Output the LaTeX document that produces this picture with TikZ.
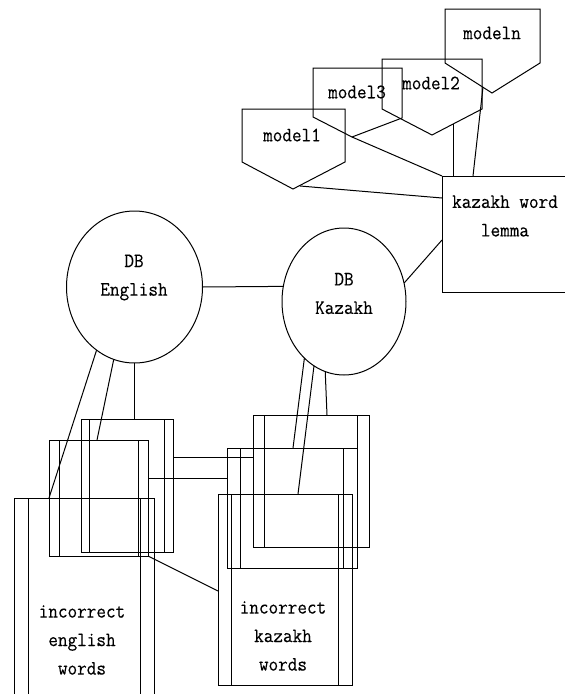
\documentclass[tikz,border=0pt]{standalone}
\usepackage{fontspec}
\newfontfamily\diafont{Latin Modern Mono}[FakeStretch=0.91, FakeBold=0.3]
\usetikzlibrary{shapes.geometric,calc}

\begin{document}
\begin{tikzpicture}[x=1pt, y=-1pt, line width=1pt,
  every node/.style={inner sep=0pt, outer sep=0pt},
  lbl/.style={font=\diafont\fontsize{20.5}{28.5}\selectfont, align=center},
  db/.style={draw, ellipse},
  % rectangle with a double line just inside each side
  sub/.style={draw, rectangle, anchor=north west,
    path picture={
      \draw ([xshift=#1]path picture bounding box.north west) -- ([xshift=#1]path picture bounding box.south west)
            ([xshift=-#1]path picture bounding box.north east) -- ([xshift=-#1]path picture bounding box.south east);
    }},
  link/.style={draw}]

\useasboundingbox (0,0) rectangle (565,694);

% model pentagons
\draw (445,9) -- (540,9) -- (540,63) -- (492,93) coordinate (mntip) -- (445,63) -- cycle;
\draw (382,59) -- (482,59) -- (482,109) -- (432,135) coordinate (m2tip) -- (382,109) -- cycle;
\draw (313,68) -- (402,68) -- (402,118) -- (352,137) coordinate (m3tip) -- (313,117) -- cycle;
\draw (242,109) -- (345,109) -- (345,162) -- (293,189) coordinate (m1tip) -- (242,162) -- cycle;
\coordinate (mnA) at (483,87);
\coordinate (m2A) at (453,124);
\coordinate (m1A) at (300,186);

\node[lbl] (lmn) at (492,33) {modeln};
\node[lbl] (lm2) at (431,83) {model2};
\node[lbl] (lm3) at (357,92) {model3};
\node[lbl] (lm1) at (292,135) {model1};

% lemma box
\node[draw, rectangle, anchor=north west, minimum width=140, minimum height=116] (kw) at (442,176) {};
\node[lbl] (kwt) at (505,216) {kazakh word\\lemma};

% databases
\node[db, minimum width=136, minimum height=152] (eng) at (134.5,287) {};
\node[lbl] (engt) at (134,277.5) {DB\\English};
\node[db, minimum width=124, minimum height=147] (kaz) at (344,301.5) {};
\node[lbl] (kazt) at (344,293.5) {DB\\Kazakh};

% english word stacks
\node[sub=8.5, minimum width=92, minimum height=133] (E1) at (81,419) {};
\node[sub=10, minimum width=99, minimum height=116] (E2) at (49,440) {};
\node[sub=14, minimum width=140, minimum height=284] (E3) at (14,498) {};
\node[lbl] (E3t) at (82,640) {incorrect\\english\\words};

% kazakh word stacks
\node[sub=11.5, minimum width=116, minimum height=132] (K1) at (253,415) {};
\node[sub=13.5, minimum width=130, minimum height=120] (K2) at (227,448) {};
\node[sub=13.5, minimum width=134, minimum height=191] (K3) at (218,494) {};
\node[lbl] (K3t) at (283,636) {incorrect\\kazakh\\words};

% models to lemma
\draw[link] (mnA) -- ($(kw.north west)+(31,0)$);
\draw[link] (m2A) -- (m2A |- kw.north);
\draw[link] (m3tip) -- (kw.north west);
\draw[link] (m1A) -- ($(kw.north west)+(0,22)$);
\draw[link] (kaz.17) -- ($(kw.north west)+(0,64)$);

% database link
\draw[link] (eng.east) -- (kaz.166);

% english database to stacks
\draw[link] (eng.south) -- (eng.south |- E1.north);
\draw[link] (eng.254) -- ($(E2.north west)+(48,0)$);
\draw[link] (eng.239) -- ($(E3.north west)+(35,0)$);

% kazakh database to stacks
\draw[link] (kaz.255) -- ($(K1.north west)+(74,0)$);
\draw[link] (kaz.235) -- ($(K2.north west)+(66,0)$);
\draw[link] (kaz.245) -- ($(K3.north west)+(80,0)$);

% stack to stack
\draw[link] ($(E1.north east)+(0,38)$) -- ($(K1.north west)+(0,42)$);
\draw[link] ($(E2.north east)+(0,38)$) -- ($(K2.north west)+(0,30)$);
\draw[link] (E2.south east) -- ($(K3.north west)+(0,97)$);
\end{tikzpicture}
\end{document}
